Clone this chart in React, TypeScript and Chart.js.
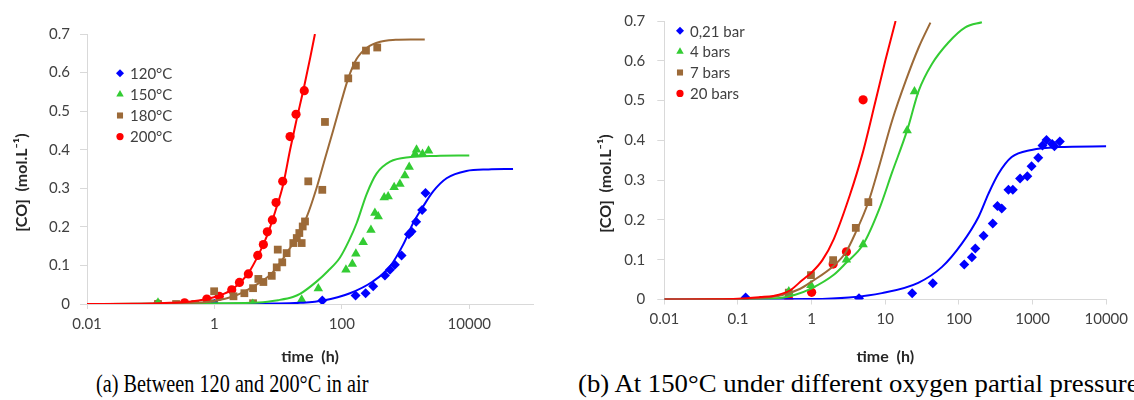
import React, { useEffect, useRef } from "react";
import { Chart, registerables } from "chart.js";
import { drawPoint } from "chart.js/helpers";

Chart.register(...registerables);

// ---------------- Chart (a): Between 120 and 200°C in air ----------------
const legendA = ["120°C", "150°C", "180°C", "200°C"];

const tA120 = [1.0, 49.4, 164, 236, 310, 474, 568, 680, 865, 1127, 1243, 1466, 1820, 2057];
const cA120 = [0, 0.009, 0.022, 0.028, 0.046, 0.074, 0.089, 0.102, 0.126, 0.181, 0.188, 0.213, 0.244, 0.288];
const fitTA120 = [0.01, 1, 10, 22, 51, 134, 310, 568, 917, 1316, 1888, 2710, 4400, 9000, 20000, 48600];
const fitCA120 = [0, 0.0005, 0.001, 0.003, 0.009, 0.028, 0.059, 0.097, 0.154, 0.21, 0.253, 0.292, 0.326, 0.345, 0.349, 0.35];

const tA150 = [0.13, 4.0, 23.4, 42.7, 116, 146, 166, 216, 286, 330, 372, 462, 533, 662, 815, 975, 1140, 1410, 1486, 1846, 2293];
const cA150 = [0.003, 0.0, 0.011, 0.04, 0.089, 0.104, 0.13, 0.16, 0.192, 0.236, 0.227, 0.276, 0.279, 0.303, 0.311, 0.333, 0.355, 0.389, 0.4, 0.389, 0.397];
const fitTA150 = [0.01, 0.1, 1, 5, 10, 17, 22, 40, 60, 93, 130, 171, 245, 350, 570, 1200, 3000, 10000];
const fitCA150 = [0, 0.0005, 0.002, 0.004, 0.01, 0.018, 0.026, 0.058, 0.085, 0.12, 0.165, 0.21, 0.285, 0.338, 0.369, 0.381, 0.384, 0.385];

const tA180 = [0.13, 0.25, 0.5, 0.99, 0.99, 1.99, 2.95, 4.04, 4.04, 4.89, 5.86, 7.94, 9.5, 9.86, 11.6, 13.6, 17.3, 19.6, 21.5, 23.4, 24.3, 26.4, 29.7, 49.3, 54.3, 126, 166, 239, 359];
const cA180 = [0, 0, 0, 0.033, 0.002, 0.02, 0.028, 0.041, 0.002, 0.065, 0.057, 0.073, 0.095, 0.141, 0.108, 0.132, 0.158, 0.171, 0.184, 0.158, 0.201, 0.214, 0.318, 0.296, 0.472, 0.585, 0.618, 0.657, 0.665];
const fitTA180 = [0.01, 0.1, 0.3, 0.6, 1, 2, 3, 5, 8, 10.7, 14, 20, 28, 40, 55, 73, 100, 126, 170, 250, 400, 700, 1200, 2000];
const fitCA180 = [0, 0.0005, 0.002, 0.004, 0.008, 0.02, 0.033, 0.054, 0.08, 0.106, 0.135, 0.175, 0.225, 0.3, 0.38, 0.45, 0.53, 0.585, 0.635, 0.665, 0.68, 0.685, 0.686, 0.686];

const tA200 = [0.13, 0.34, 0.76, 1.19, 1.87, 2.47, 3.41, 4.79, 5.86, 6.77, 8.11, 9.27, 11.8, 15.4, 19.1, 25.7];
const cA200 = [0, 0.003, 0.013, 0.02, 0.037, 0.056, 0.078, 0.126, 0.154, 0.187, 0.218, 0.263, 0.318, 0.434, 0.492, 0.553];
const fitTA200 = [0.01, 0.05, 0.1, 0.2, 0.4, 0.76, 1.2, 1.9, 3.4, 5, 6.8, 9, 12, 15.4, 19, 25.7, 32, 37.8];
const fitCA200 = [0, 0.0005, 0.001, 0.003, 0.006, 0.013, 0.022, 0.038, 0.08, 0.13, 0.18, 0.24, 0.31, 0.4, 0.47, 0.565, 0.64, 0.7];

const xTicksA = [0.01, 1, 100, 10000];
const xTickLabelsA = ["0.01", "1", "100", "10000"];

// ---------------- Chart (b): At 150°C under different oxygen partial pressure ----------------
const legendB = ["0,21 bar", "4 bars", "7 bars", "20 bars"];

const tB021 = [0.127, 4.4, 23.2, 44.2, 118, 150, 167, 216, 288, 333, 381, 470, 539, 676, 848, 968, 1193, 1364, 1545, 1845, 1978, 2344];
const cB021 = [0.005, 0.003, 0.016, 0.041, 0.088, 0.106, 0.128, 0.16, 0.191, 0.235, 0.229, 0.276, 0.276, 0.304, 0.31, 0.335, 0.356, 0.387, 0.401, 0.391, 0.385, 0.397];
const fitTB021 = [0.01, 0.1, 1, 3.2, 9, 28, 59, 110, 185, 252, 344, 520, 970, 2200, 10000];
const fitCB021 = [0, 0.0003, 0.001, 0.005, 0.016, 0.042, 0.082, 0.141, 0.208, 0.266, 0.316, 0.358, 0.376, 0.383, 0.385];

const tB4 = [0.49, 0.98, 2.97, 5.0, 19.8, 24.9];
const cB4 = [0.02, 0.036, 0.1, 0.138, 0.425, 0.523];
const fitTB4 = [0.01, 0.1, 0.37, 0.6, 1, 2, 2.9, 5, 8.2, 12.4, 19.8, 28.5, 43, 72, 122, 205];
const fitCB4 = [0, 0.001, 0.004, 0.012, 0.028, 0.062, 0.091, 0.138, 0.225, 0.32, 0.425, 0.525, 0.592, 0.646, 0.684, 0.697];

const tB7 = [0.49, 0.98, 1.96, 3.98, 5.89];
const cB7 = [0.017, 0.061, 0.099, 0.18, 0.245];
const fitTB7 = [0.01, 0.1, 0.2, 0.4, 0.7, 1, 2, 2.9, 4, 5.9, 8.2, 12.4, 19, 28.5, 41];
const fitCB7 = [0, 0.001, 0.003, 0.011, 0.027, 0.045, 0.085, 0.118, 0.17, 0.245, 0.333, 0.45, 0.55, 0.634, 0.696];

const tB20 = [0.49, 1.0, 1.96, 2.97, 5.0];
const cB20 = [0.0, 0.018, 0.089, 0.12, 0.502];
const fitTB20 = [0.01, 0.05, 0.1, 0.2, 0.3, 0.5, 0.75, 1, 1.4, 2, 3.3, 4.9, 7.4, 10, 13.8];
const fitCB20 = [0, 0.0005, 0.002, 0.006, 0.009, 0.022, 0.049, 0.068, 0.099, 0.152, 0.262, 0.366, 0.5, 0.6, 0.7];

const xTicksB = [0.01, 0.1, 1, 10, 100, 1000, 10000];
const xTickLabelsB = ["0.01", "0.1", "1", "10", "100", "1000", "10000"];

const yTicks = [0, 0.1, 0.2, 0.3, 0.4, 0.5, 0.6, 0.7];
const yTickLabels = ["0", "0.1", "0.2", "0.3", "0.4", "0.5", "0.6", "0.7"];

// ---------------- styling ----------------
const FONT = "Lato, 'Open Sans', 'DejaVu Sans', sans-serif";
const TEXT = "#404040";
const AXIS = "#d9d9d9";
const BLUE = "#0000ff";
const GREEN = "#33cc33";
const BROWN = "#9c6a38";
const RED = "#ff0000";

const styles = [
  { color: BLUE, pointStyle: "rectRot", radius: 5, legendRadius: 4 },
  { color: GREEN, pointStyle: "triangle", radius: 5.5, legendRadius: 4.3 },
  { color: BROWN, pointStyle: "rect", radius: 5.5, legendRadius: 4.3 },
  { color: RED, pointStyle: "circle", radius: 4.6, legendRadius: 3.6 },
];

type Series = { t: number[]; c: number[]; fitT: number[]; fitC: number[] };

const pts = (t: number[], c: number[]) => t.map((x, i) => ({ x, y: c[i] }));

const insideLegend = {
  id: "insideLegend",
  afterDraw(chart: any, _args: any, opts: any) {
    if (!opts || !opts.items) return;
    const { ctx } = chart;
    ctx.save();
    opts.items.forEach((label: string, i: number) => {
      const st = styles[i];
      const y = opts.y + i * opts.dy;
      ctx.fillStyle = st.color;
      ctx.strokeStyle = st.color;
      drawPoint(ctx, { pointStyle: st.pointStyle, radius: st.legendRadius, rotation: 0, borderWidth: 0 } as any, opts.x, y);
      ctx.fillStyle = TEXT;
      ctx.font = `15px ${FONT}`;
      ctx.textBaseline = "middle";
      ctx.textAlign = "left";
      ctx.fillText(label, opts.x + 10, y + 1);
    });
    ctx.restore();
  },
};

function makeConfig(p: {
  series: Series[];
  xTicks: number[];
  xLabels: string[];
  xMax: number;
  padding: { left: number; top: number; right: number; bottom: number };
  yWidth: number;
  xHeight: number;
  yLabelPad: number;
  yTitlePad: number;
  yTitle: string;
  legend: string[];
  legendX: number;
  legendY: number;
  legendDy: number;
}) {
  const datasets: any[] = [];
  p.series.forEach((s, i) => {
    datasets.push({
      label: p.legend[i] + " model",
      data: pts(s.fitT, s.fitC),
      showLine: true,
      borderColor: styles[i].color,
      borderWidth: 2,
      pointRadius: 0,
      cubicInterpolationMode: "monotone",
      order: 3 - i,
    });
  });
  p.series.forEach((s, i) => {
    datasets.push({
      label: p.legend[i],
      data: pts(s.t, s.c),
      showLine: false,
      backgroundColor: styles[i].color,
      borderColor: styles[i].color,
      borderWidth: 0,
      pointStyle: styles[i].pointStyle,
      pointRadius: styles[i].radius,
      order: 10 + i,
    });
  });
  return {
    type: "scatter",
    data: { datasets },
    plugins: [insideLegend],
    options: {
      responsive: false,
      animation: false,
      events: [],
      layout: { padding: p.padding },
      plugins: {
        legend: { display: false },
        tooltip: { enabled: false },
        insideLegend: { items: p.legend, x: p.legendX, y: p.legendY, dy: p.legendDy },
      },
      scales: {
        x: {
          type: "logarithmic",
          min: 0.01,
          max: p.xMax,
          afterBuildTicks: (s: any) => {
            s.ticks = p.xTicks.map((v) => ({ value: v }));
          },
          afterFit: (s: any) => {
            s.height = p.xHeight;
          },
          ticks: {
            autoSkip: false,
            maxRotation: 0,
            padding: 6,
            color: TEXT,
            font: { family: FONT, size: 15 },
            callback: (_v: any, i: number) => p.xLabels[i],
          },
          grid: { drawOnChartArea: false, tickLength: 5, color: AXIS },
          border: { color: AXIS, width: 1 },
          title: {
            display: true,
            text: "time  (h)",
            color: "#262626",
            font: { family: FONT, size: 16, weight: "bold" },
            padding: { top: 0, bottom: 3.4 },
          },
        },
        y: {
          type: "linear",
          min: 0,
          max: 0.7,
          afterBuildTicks: (s: any) => {
            s.ticks = yTicks.map((v) => ({ value: v }));
          },
          afterFit: (s: any) => {
            s.width = p.yWidth;
          },
          ticks: {
            padding: p.yLabelPad,
            color: TEXT,
            font: { family: FONT, size: 15 },
            callback: (_v: any, i: number) => yTickLabels[i],
          },
          grid: { drawOnChartArea: false, tickLength: 7, color: AXIS },
          border: { color: AXIS, width: 1 },
          title: {
            display: true,
            text: p.yTitle,
            color: "#262626",
            font: { family: FONT, size: 16, weight: "bold" },
            padding: { top: p.yTitlePad, bottom: 0 },
          },
        },
      },
    },
  } as any;
}

function ChartCanvas({ config, width, height, left }: { config: any; width: number; height: number; left: number }) {
  const ref = useRef<HTMLCanvasElement | null>(null);
  useEffect(() => {
    if (!ref.current) return;
    const chart = new Chart(ref.current, config);
    return () => chart.destroy();
  }, [config]);
  return (
    <canvas
      ref={ref}
      width={width}
      height={height}
      style={{ position: "absolute", left, top: 0, width, height }}
    />
  );
}

const configA = makeConfig({
  series: [
    { t: tA120, c: cA120, fitT: fitTA120, fitC: fitCA120 },
    { t: tA150, c: cA150, fitT: fitTA150, fitC: fitCA150 },
    { t: tA180, c: cA180, fitT: fitTA180, fitC: fitCA180 },
    { t: tA200, c: cA200, fitT: fitTA200, fitC: fitCA200 },
  ],
  xTicks: xTicksA,
  xLabels: xTickLabelsA,
  xMax: 100000,
  padding: { left: 0, top: 34, right: 27, bottom: 0 },
  yWidth: 87,
  xHeight: 66,
  yLabelPad: 10,
  yTitlePad: 12.4,
  yTitle: "[CO]  (mol.L\u207B\u00B9)       ",
  legend: legendA,
  legendX: 120,
  legendY: 73.3,
  legendDy: 21.1,
});

const configB = makeConfig({
  series: [
    { t: tB021, c: cB021, fitT: fitTB021, fitC: fitCB021 },
    { t: tB4, c: cB4, fitT: fitTB4, fitC: fitCB4 },
    { t: tB7, c: cB7, fitT: fitTB7, fitC: fitCB7 },
    { t: tB20, c: cB20, fitT: fitTB20, fitC: fitCB20 },
  ],
  xTicks: xTicksB,
  xLabels: xTickLabelsB,
  xMax: 10000,
  padding: { left: 0, top: 20, right: 25.7, bottom: 0 },
  yWidth: 104.3,
  xHeight: 70.5,
  yLabelPad: 12,
  yTitlePad: 36.4,
  yTitle: "[CO]  (mol.L\u207B\u00B9)            ",
  legend: legendB,
  legendX: 120,
  legendY: 30.7,
  legendDy: 20.9,
});

const captionStyle: React.CSSProperties = {
  position: "absolute",
  top: 370,
  fontFamily: "'Liberation Serif', 'Times New Roman', serif",
  fontSize: 25,
  lineHeight: "28px",
  color: "#000",
  whiteSpace: "nowrap",
  transformOrigin: "left center",
};

export default function App() {
  return (
    <div
      style={{
        position: "fixed",
        left: 0,
        top: 0,
        width: 1134,
        height: 400,
        background: "#fff",
        overflow: "hidden",
      }}
    >
      <ChartCanvas config={configA} width={560} height={370} left={0} />
      <ChartCanvas config={configB} width={574} height={370} left={560} />
      <div style={{ ...captionStyle, left: 96, transform: "scaleX(0.81)" }}>(a) Between 120 and 200°C in air</div>
      <div style={{ ...captionStyle, left: 578, transform: "scaleX(1.07)" }}>
        (b) At 150°C under different oxygen partial pressure
      </div>
    </div>
  );
}
